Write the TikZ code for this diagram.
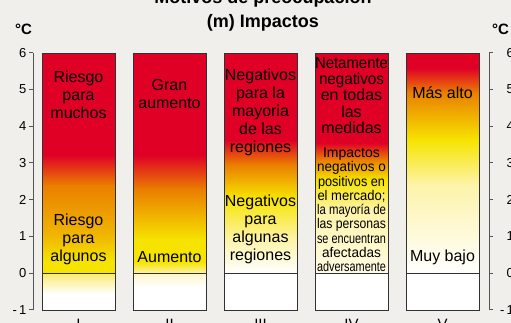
\documentclass[tikz,border=0pt]{standalone}
\usepackage{fontspec}
\setmainfont{Liberation Sans}
\usepackage{graphicx}
\definecolor{bg}{RGB}{240,239,235}
\definecolor{cred}{RGB}{224,0,38}
\definecolor{corange}{RGB}{234,128,0}
\definecolor{cgold}{RGB}{240,182,0}
\definecolor{cyellow}{RGB}{246,228,0}
\definecolor{cpale}{RGB}{253,243,170}
\definecolor{ccream}{RGB}{255,251,228}
\definecolor{cbelow}{RGB}{250,234,110}
\definecolor{cbelowb}{RGB}{253,245,200}
\definecolor{frame}{RGB}{50,50,50}
\definecolor{axisc}{RGB}{85,85,85}
\newcommand\fitto[2]{\resizebox{#1}{\height}{#2}}
\newcommand\bseg[5]{\shade[top color=#4,bottom color=#5] (#1,#2) rectangle ({#1+73},#3);}
\newcommand\bfill[4]{\fill[#4] (#1,#2) rectangle ({#1+73},#3);}
\tikzset{
  bartext/.style={font=\fontsize{16}{18}\selectfont, align=center, inner sep=0pt, text=black},
  smalltext/.style={font=\fontsize{14}{14.25}\selectfont, align=center, inner sep=0pt, text=black},
  ticklabel/.style={font=\fontsize{13}{15}\selectfont, inner sep=0pt},
  titletext/.style={font=\bfseries\fontsize{18}{22}\selectfont, inner sep=0pt, anchor=base},
  unittext/.style={font=\bfseries\fontsize{15}{18}\selectfont, inner sep=0pt, anchor=base},
  roman/.style={font=\fontsize{15}{18}\selectfont, inner sep=0pt, anchor=base},
  barframe/.style={draw=frame, line width=0.9pt},
  axisline/.style={draw=axisc, line width=0.8pt}
}
\begin{document}
\begin{tikzpicture}[x=1pt,y=-1pt]
\useasboundingbox (0,0) rectangle (511,323);
\fill[bg] (0,0) rectangle (511,323);

% ---- Bar I ----
\bfill{42}{53}{155}{cred}
\bseg{42}{155}{186}{cred}{corange}
\bseg{42}{186}{235}{corange}{cgold}
\bseg{42}{235}{262}{cgold}{cyellow}
\bfill{42}{262}{273}{cyellow}
\bseg{42}{273}{294}{cbelow}{white}
\bfill{42}{294}{310}{white}
% ---- Bar II ----
\bfill{133}{53}{155}{cred}
\bseg{133}{155}{190}{cred}{corange}
\bseg{133}{190}{240}{corange}{cyellow}
\bfill{133}{240}{262}{cyellow}
\bseg{133}{262}{273}{cyellow}{cpale}
\bseg{133}{273}{287}{cbelowb}{white}
\bfill{133}{287}{310}{white}
% ---- Bar III ----
\bfill{224}{53}{140}{cred}
\bseg{224}{140}{165}{cred}{corange}
\bseg{224}{165}{198}{corange}{cyellow}
\bseg{224}{198}{240}{cyellow}{cpale}
\bseg{224}{240}{273}{cpale}{white}
\bfill{224}{273}{310}{white}
% ---- Bar IV ----
\bfill{315}{53}{143}{cred}
\bseg{315}{143}{160}{cred}{corange}
\bseg{315}{160}{180}{corange}{cyellow}
\bseg{315}{180}{210}{cyellow}{cpale}
\bseg{315}{210}{273}{cpale}{ccream}
\bfill{315}{273}{310}{white}
% ---- Bar V ----
\bfill{406}{53}{68}{cred}
\bseg{406}{68}{93}{cred}{corange}
\bseg{406}{93}{140}{corange}{cyellow}
\bseg{406}{140}{185}{cyellow}{cpale}
\bseg{406}{185}{273}{cpale}{white}
\bfill{406}{273}{310}{white}

% frames and zero lines
\foreach \x in {42,133,224,315,406}{
  \draw[barframe] (\x,53) rectangle ({\x+73},310);
  \draw[barframe] (\x,273) -- ({\x+73},273);
}

% axes
\draw[axisline] (33,52.8) -- (33,309.7);
\draw[axisline] (489,52.8) -- (489,309.7);
\foreach \v in {-1,0,...,6}{
  \draw[axisline] (29,{273-36.7*\v}) -- (33,{273-36.7*\v});
  \draw[axisline] (489,{273-36.7*\v}) -- (493,{273-36.7*\v});
}
\foreach \v in {0,...,6}{
  \node[ticklabel, anchor=east] (l\v) at (26.5,{273-36.7*\v}) {\v};
  \node[ticklabel, anchor=east] (r\v) at (514,{273-36.7*\v}) {\v};
}
\node[ticklabel, anchor=east] (lm1) at (26.5,309.7) {-\,1};
\node[ticklabel, anchor=east] (rm1) at (514,309.7) {-\,1};

% titles
\node[titletext] (t1) at (263,3.5) {Motivos de preocupación};
\node[titletext] (t2) at (263,28) {(m) Impactos};
\node[unittext, anchor=base west] (cl) at (15,35) {°C};
\node[unittext, anchor=base west] (cr) at (492,35) {°C};

% bar texts
\node[bartext] (i1) at (78.5,95) {Riesgo\\para\\muchos};
\node[bartext] (i2) at (78.5,239) {Riesgo\\para\\algunos};
\node[bartext] (ii1) at (169.5,94) {Gran\\aumento};
\node[bartext] (ii2) at (169.5,257) {Aumento};
\node[bartext] (iii1) at (260.5,112.5) {Negativos\\para la\\mayoria\\de las\\regiones};
\node[bartext] (iii2) at (260.5,229.5) {Negativos\\para\\algunas\\regiones};
\node[bartext, font=\fontsize{16}{16.3}\selectfont] (iv1) at (351.5,95.5)
  {\fitto{73pt}{Netamente}\\\fitto{65pt}{negativos}\\en todas\\las\\medidas};
\node[smalltext] (iv2) at (351.5,210)
  {Impactos\\\fitto{69pt}{negativos o}\\\fitto{67pt}{positivos en}\\\fitto{68pt}{el mercado;}\\\fitto{69pt}{la mayoría de}\\\fitto{69pt}{las personas}\\\fitto{69pt}{se encuentran}\\\fitto{59pt}{afectadas}\\\fitto{69pt}{adversamente}};
\node[bartext] (v1) at (442.5,93) {Más alto};
\node[bartext] (v2) at (442.5,257) {Muy bajo};

% roman numerals
\node[roman] (n1) at (78.5,329) {I};
\node[roman] (n2) at (169.5,329) {II};
\node[roman] (n3) at (260.5,329) {III};
\node[roman] (n4) at (351.5,329) {IV};
\node[roman] (n5) at (442.5,329) {V};
\end{tikzpicture}
\end{document}
